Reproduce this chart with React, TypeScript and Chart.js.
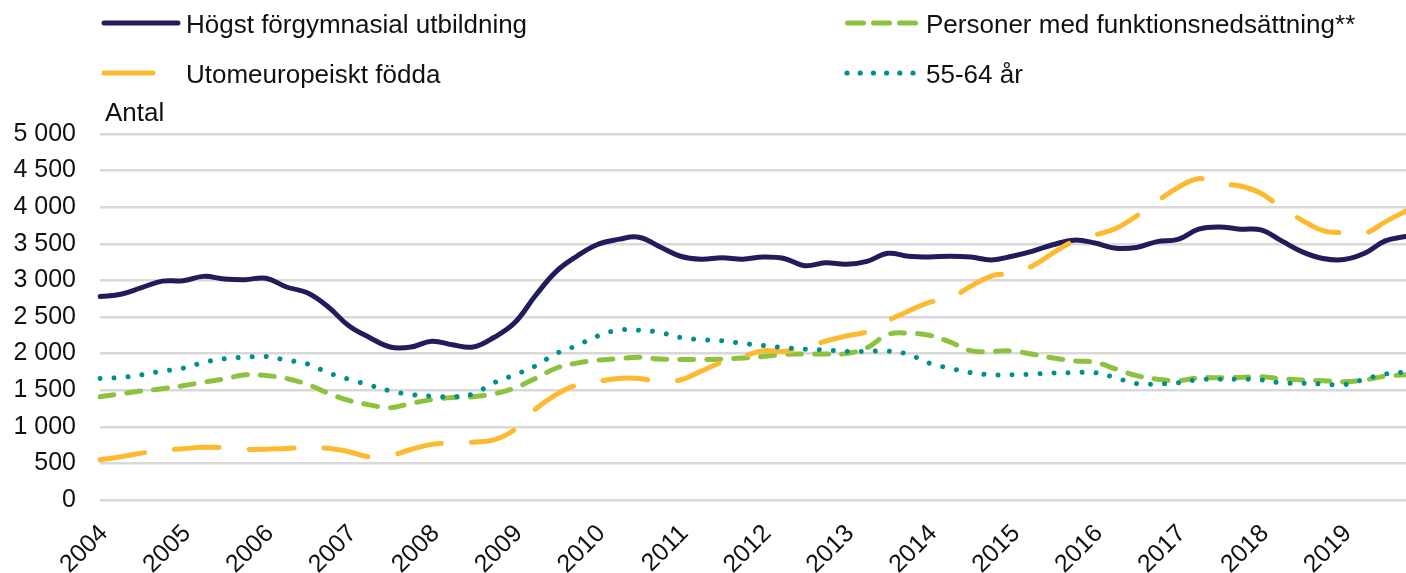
import React, { useEffect, useRef } from 'react';
import { Chart, registerables } from 'chart.js';

Chart.register(...registerables);

const years = ['2004', '2005', '2006', '2007', '2008', '2009', '2010', '2011', '2012', '2013', '2014', '2015', '2016', '2017', '2018', '2019'];
const quarters = ['K1', 'K2', 'K3', 'K4'];
const categories = years.flatMap((y) => quarters.map((q) => `${y} ${q}`));

const seriesNames = ['Högst förgymnasial utbildning', 'Personer med funktionsnedsättning**', 'Utomeuropeiskt födda', '55-64 år'];

const hogstForgymnasial = [
  2780, 2810, 2900, 2990, 2995, 3055, 3020, 3010, 3030, 2910, 2830, 2640, 2380, 2220, 2090, 2090,
  2170, 2120, 2090, 2220, 2420, 2790, 3120, 3330, 3490, 3560, 3590, 3460, 3330, 3290, 3310, 3290,
  3320, 3300, 3200, 3240, 3220, 3260, 3370, 3330, 3320, 3330, 3320, 3280, 3330, 3400, 3490, 3550,
  3510, 3440, 3450, 3530, 3560, 3700, 3730, 3700, 3690, 3540, 3390, 3300, 3285, 3370, 3540, 3600,
];
const funktionsnedsattning = [
  1410, 1450, 1490, 1520, 1560, 1610, 1655, 1710, 1700, 1660, 1580, 1460, 1360, 1300, 1260, 1320,
  1370, 1400, 1410, 1450, 1530, 1660, 1800, 1870, 1910, 1930, 1950, 1925, 1920, 1920, 1925, 1940,
  1960, 1990, 1995, 1995, 2000, 2080, 2260, 2280, 2250, 2160, 2040, 2030, 2035, 1990, 1940, 1900,
  1880, 1790, 1700, 1650, 1630, 1670, 1670, 1675, 1685, 1655, 1640, 1630, 1615, 1640, 1690, 1710,
];
const utomeuropeiskt = [
  550, 590, 640, 680, 700, 720, 715, 690, 695, 705, 714, 706, 660, 590, 610, 690,
  760, 775, 790, 820, 960, 1240, 1440, 1570, 1620, 1660, 1660, 1620, 1640, 1760, 1880, 1960,
  2040, 2030, 2080, 2170, 2240, 2300, 2450, 2580, 2700, 2755, 2920, 3060, 3100, 3200, 3380, 3540,
  3620, 3710, 3880, 4080, 4270, 4390, 4320, 4290, 4190, 3990, 3820, 3680, 3650, 3640, 3800, 3950,
];
const aldersgrupp5564 = [
  1660, 1675, 1710, 1760, 1800, 1880, 1930, 1950, 1960, 1910, 1860, 1740, 1650, 1570, 1490, 1440,
  1420, 1410, 1450, 1600, 1710, 1830, 2000, 2110, 2240, 2320, 2320, 2290, 2220, 2190, 2175, 2140,
  2110, 2080, 2060, 2050, 2030, 2030, 2035, 1990, 1870, 1800, 1740, 1710, 1710, 1720, 1735, 1740,
  1740, 1670, 1590, 1585, 1600, 1645, 1650, 1650, 1640, 1600, 1595, 1585, 1575, 1650, 1720, 1750,
];

const yTicks = [0, 500, 1000, 1500, 2000, 2500, 3000, 3500, 4000, 4500, 5000];
const yTitle = 'Antal';

const NAVY = '#211d5c';
const GREEN = '#8dc23f';
const YELLOW = '#fdba30';
const TEAL = '#00908c';
const FONT = '"Liberation Sans", Arial, sans-serif';
const TEXT = '#111111';

const fmt = (v: number) => String(v).replace(/\B(?=(\d{3})+(?!\d))/g, ' ');

const legendPlugin = {
  id: 'customLegend',
  afterDraw(chart: any) {
    const ctx = chart.ctx as CanvasRenderingContext2D;
    ctx.save();
    ctx.lineCap = 'round';
    ctx.lineWidth = 5;
    ctx.strokeStyle = NAVY;
    ctx.setLineDash([]);
    ctx.beginPath();
    ctx.moveTo(104, 23);
    ctx.lineTo(178, 23);
    ctx.stroke();
    ctx.strokeStyle = YELLOW;
    ctx.beginPath();
    ctx.moveTo(104, 73);
    ctx.lineTo(153, 73);
    ctx.stroke();
    ctx.strokeStyle = GREEN;
    ctx.setLineDash([16, 10]);
    ctx.beginPath();
    ctx.moveTo(847.5, 23);
    ctx.lineTo(916, 23);
    ctx.stroke();
    ctx.setLineDash([]);
    ctx.fillStyle = TEAL;
    for (let i = 0; i < 6; i++) {
      ctx.beginPath();
      ctx.arc(847 + i * 13.2, 73, 2.6, 0, Math.PI * 2);
      ctx.fill();
    }
    ctx.fillStyle = TEXT;
    ctx.font = `26px ${FONT}`;
    ctx.textBaseline = 'alphabetic';
    ctx.textAlign = 'left';
    ctx.fillText(seriesNames[0], 186, 33);
    ctx.fillText(seriesNames[2], 186, 82.5);
    ctx.fillText(seriesNames[1], 926, 33);
    ctx.fillText(seriesNames[3], 926, 82.5);
    ctx.fillText(yTitle, 105, 121);
    ctx.restore();
  },
};

export default function App() {
  const canvasRef = useRef<HTMLCanvasElement | null>(null);

  useEffect(() => {
    document.body.style.margin = '0';
    const canvas = canvasRef.current;
    if (!canvas) return;
    const common = {
      pointRadius: 0,
      borderWidth: 5,
      tension: 0.4,
      fill: false,
      borderCapStyle: 'round' as const,
      borderJoinStyle: 'round' as const,
    };
    const chart = new Chart(canvas, {
      type: 'line',
      data: {
        labels: categories,
        datasets: [
          { ...common, label: seriesNames[0], data: hogstForgymnasial, borderColor: NAVY, order: 3 },
          { ...common, label: seriesNames[1], data: funktionsnedsattning, borderColor: GREEN, borderDash: [14, 13], order: 2 },
          { ...common, label: seriesNames[2], data: utomeuropeiskt, borderColor: YELLOW, borderDash: [45, 30], order: 1 },
          { ...common, label: seriesNames[3], data: aldersgrupp5564, borderColor: TEAL, borderDash: [0.01, 14], order: 0 },
        ],
      },
      options: {
        animation: false,
        responsive: true,
        maintainAspectRatio: false,
        layout: { padding: { top: 134, left: 0, right: 0, bottom: 0 } },
        plugins: { legend: { display: false }, tooltip: { enabled: false }, title: { display: false } },
        scales: {
          x: {
            type: 'category',
            offset: false,
            grid: { display: false },
            border: { display: false },
            afterFit: (scale: any) => {
              scale.height = 73;
              scale.paddingRight = 0;
              scale.paddingLeft = 0;
            },
            ticks: {
              autoSkip: false,
              maxRotation: 45,
              minRotation: 45,
              padding: 11,
              labelOffset: 4,
              color: TEXT,
              font: { family: FONT, size: 25 },
              callback: (_v: any, i: number) => (i % 4 === 0 ? years[i / 4] : ''),
            },
          },
          y: {
            min: 0,
            max: 5000,
            afterFit: (scale: any) => { scale.width = 100; },
            afterBuildTicks: (scale: any) => { scale.ticks = yTicks.map((v) => ({ value: v })); },
            border: { display: false },
            grid: { color: '#d9d9d9', lineWidth: 2.5, drawTicks: false },
            ticks: {
              padding: 24,
              color: TEXT,
              font: { family: FONT, size: 25 },
              callback: (v: any) => fmt(Number(v)),
            },
          },
        },
      },
      plugins: [legendPlugin],
    });
    return () => chart.destroy();
  }, []);

  return (
    <div style={{ position: 'absolute', left: 0, top: 0, width: 1406, height: 573 }}>
      <canvas ref={canvasRef} />
    </div>
  );
}
